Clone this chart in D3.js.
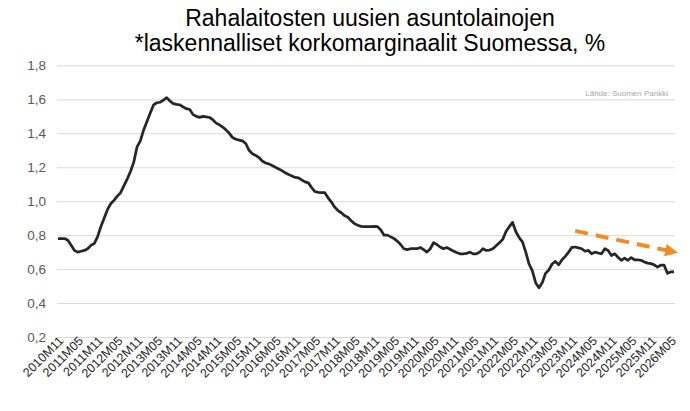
<!DOCTYPE html>
<html>
<head>
<meta charset="utf-8">
<script src="https://cdn.jsdelivr.net/npm/d3@7"></script>
<style>
  body { margin: 0; background: #fff; }
  svg { display: block; font-family: "Liberation Sans", Arial, sans-serif; }
</style>
</head>
<body>
<div id="chart"></div>
<script>
// Monthly values from 2010M11 onward
const startYear = 2010, startMonth = 11;
const margins = [
  0.78, 0.78, 0.78, 0.77, 0.74, 0.71, 0.70, 0.705, 0.71, 0.72,
  0.74, 0.75, 0.79, 0.85, 0.90, 0.95, 0.985, 1.005, 1.03, 1.05,
  1.09, 1.13, 1.175, 1.23, 1.32, 1.355, 1.42, 1.47, 1.52, 1.567,
  1.58, 1.583, 1.595, 1.61, 1.59, 1.575, 1.57, 1.567, 1.555, 1.545,
  1.54, 1.51, 1.50, 1.494, 1.50, 1.497, 1.493, 1.48, 1.46, 1.45,
  1.437, 1.42, 1.40, 1.375, 1.365, 1.36, 1.355, 1.34, 1.30, 1.28,
  1.27, 1.257, 1.237, 1.225, 1.22, 1.21, 1.20, 1.19, 1.18, 1.167,
  1.158, 1.148, 1.14, 1.138, 1.125, 1.114, 1.108, 1.08, 1.057, 1.052,
  1.05, 1.05, 1.02, 0.995, 0.965, 0.945, 0.932, 0.915, 0.905, 0.885,
  0.868, 0.858, 0.852, 0.85, 0.85, 0.85, 0.852, 0.85, 0.83, 0.80,
  0.80, 0.79, 0.78, 0.765, 0.745, 0.72, 0.715, 0.72, 0.72, 0.72,
  0.727, 0.715, 0.70, 0.72, 0.755, 0.745, 0.73, 0.72, 0.727, 0.717,
  0.707, 0.698, 0.69, 0.69, 0.692, 0.70, 0.69, 0.69, 0.70, 0.72,
  0.71, 0.712, 0.72, 0.738, 0.755, 0.775, 0.822, 0.85, 0.875, 0.82,
  0.785, 0.76, 0.70, 0.63, 0.59, 0.52, 0.49, 0.52, 0.575, 0.595,
  0.63, 0.645, 0.625, 0.655, 0.675, 0.70, 0.728, 0.73, 0.725, 0.72,
  0.705, 0.71, 0.69, 0.70, 0.695, 0.69, 0.72, 0.71, 0.68, 0.69,
  0.67, 0.652, 0.665, 0.652, 0.668, 0.655, 0.655, 0.652, 0.642, 0.635,
  0.632, 0.625, 0.612, 0.623, 0.623, 0.575, 0.583, 0.583
];
const yTicks = [0.2, 0.4, 0.6, 0.8, 1.0, 1.2, 1.4, 1.6, 1.8];
// trend arrow: [month index, value]
const trendStart = [157, 0.825];
const trendEnd = [188.5, 0.695];
const titleLines = ["Rahalaitosten uusien asuntolainojen", "*laskennalliset korkomarginaalit Suomessa, %"];
const sourceText = "Lähde: Suomen Pankki";

function monthLabel(i) {
  const m0 = startMonth - 1 + i;
  const y = startYear + Math.floor(m0 / 12);
  const m = (m0 % 12) + 1;
  return y + "M" + String(m).padStart(2, "0");
}

const W = 690, H = 411;
const svg = d3.select("#chart").append("svg")
  .attr("width", W).attr("height", H);

const x = d3.scaleLinear()
  .domain([0, margins.length - 1])
  .range([58, 674]);
const y = d3.scaleLinear()
  .domain([0.2, 1.8])
  .range([337, 65.4]);

// Title
svg.append("g").selectAll("text")
  .data(titleLines)
  .enter().append("text")
  .attr("x", 370)
  .attr("y", (d, i) => 25.5 + i * 25)
  .attr("text-anchor", "middle")
  .style("font-size", "23px")
  .style("fill", "#000")
  .text(d => d);

// Grid lines
svg.append("g")
  .attr("class", "grid")
  .attr("transform", "translate(57,0)")
  .call(d3.axisLeft(y).tickValues(yTicks).tickSize(-618).tickFormat(""))
  .call(g => g.select(".domain").remove())
  .call(g => g.selectAll("line").attr("stroke", "#d9d9d9").attr("stroke-width", 1));

// Y labels
svg.append("g")
  .attr("transform", "translate(46,0)")
  .call(d3.axisLeft(y).tickValues(yTicks).tickSize(0)
    .tickFormat(d => d3.format(".1f")(d).replace(".", ",")))
  .call(g => g.select(".domain").remove())
  .call(g => g.selectAll("text")
    .attr("x", 0)
    .style("font-family", "Liberation Sans, Arial, sans-serif")
    .style("font-size", "13.5px")
    .style("fill", "#595959"));

// X labels every 6 months
const xTicks = d3.range(0, margins.length, 6);
svg.append("g")
  .attr("class", "x-axis")
  .attr("transform", "translate(0,342)")
  .call(d3.axisBottom(x).tickValues(xTicks).tickSize(0).tickFormat(monthLabel))
  .call(g => g.select(".domain").remove())
  .call(g => g.selectAll("text")
    .attr("y", 0)
    .attr("text-anchor", "end")
    .attr("dx", "0.35em")
    .attr("dy", "0.3em")
    .attr("transform", "rotate(-45)")
    .style("font-family", "Liberation Sans, Arial, sans-serif")
    .style("font-size", "12.5px")
    .style("fill", "#262626"));

// Source
svg.append("text")
  .attr("x", 668)
  .attr("y", 96)
  .attr("text-anchor", "end")
  .style("font-size", "8px")
  .style("fill", "#a6a6a6")
  .text(sourceText);

// Line
const line = d3.line()
  .x((d, i) => x(i))
  .y(d => y(d));
svg.append("path")
  .datum(margins)
  .attr("fill", "none")
  .attr("stroke", "#262626")
  .attr("stroke-width", 2.75)
  .attr("stroke-linejoin", "round")
  .attr("d", line);

// Trend arrow
svg.append("defs").append("marker")
  .attr("id", "arrowhead")
  .attr("viewBox", "0 0 10 10")
  .attr("refX", 6).attr("refY", 5)
  .attr("markerWidth", 3.2).attr("markerHeight", 3.2)
  .attr("orient", "auto")
  .append("path")
  .attr("d", "M0,0 L10,5 L0,10 z")
  .attr("fill", "#f28c28");

svg.append("line")
  .attr("x1", x(trendStart[0])).attr("y1", y(trendStart[1]))
  .attr("x2", x(trendEnd[0]) - 6).attr("y2", y(trendEnd[1]) - 1.3)
  .attr("stroke", "#f28c28")
  .attr("stroke-width", 4)
  .attr("stroke-dasharray", "13,8")
  .attr("marker-end", "url(#arrowhead)");
</script>
</body>
</html>
